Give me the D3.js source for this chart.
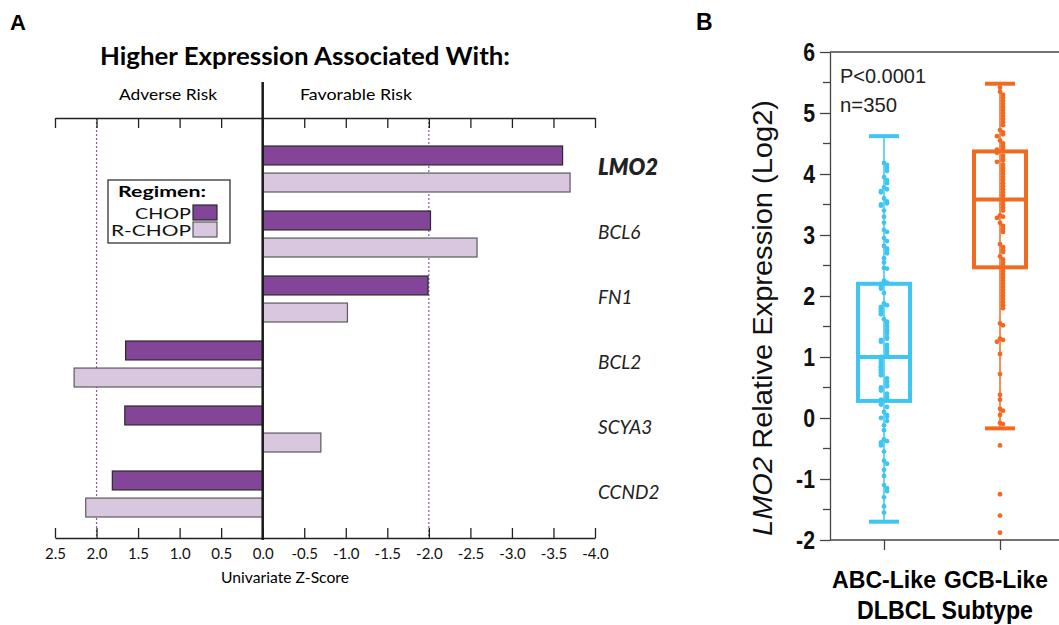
<html>
<head>
<meta charset="utf-8">
<style>
  body { margin: 0; background: #fff; }
  svg { display: block; }
  .a-txt { font-family: Lato, "Open Sans", sans-serif; }
  .b-txt { font-family: "Liberation Sans", Arial, sans-serif; }
</style>
<script src="https://cdn.jsdelivr.net/npm/d3@7"></script>
</head>
<body>
<svg id="fig" width="1059" height="625"></svg>
<script>
// ---- panel A data ----
let genes = ["LMO2", "BCL6", "FN1", "BCL2", "SCYA3", "CCND2"];
let regimens = ["CHOP", "R-CHOP"];
let zChop  = [-3.61, -2.02, -1.99, 1.65, 1.66, 1.81];
let zRchop = [-3.70, -2.58, -1.02, 2.27, -0.70, 2.13];
let zTicks = [2.5, 2.0, 1.5, 1.0, 0.5, 0.0, -0.5, -1.0, -1.5, -2.0, -2.5, -3.0, -3.5, -4.0];

// ---- panel B data ----
let subtypes = ["ABC-Like", "GCB-Like"];
let abcPoints = [4.18, 4.15, 4.1, 4.05, 3.95, 3.9, 3.85, 3.78, 3.75, 3.72, 3.7, 3.6, 3.55, 3.52, 3.5, 3.48,
  3.4, 3.3, 3.2, 3.08, 3.05, 2.95, 2.9, 2.82, 2.78, 2.75, 2.7, 2.62, 2.55, 2.46, 2.45, 2.25, 2.22, 2.2,
  2.18, 2.15, 2.12, 2.05, 1.88, 1.85, 1.82, 1.8, 1.78, 1.75, 1.72, 1.7, 1.62, 1.58, 1.55, 1.5, 1.45,
  1.42, 1.38, 1.32, 1.3, 1.28, 1.25, 1.2, 1.15, 1.1, 1.05, 1.02, 1.0, 0.98, 0.95, 0.92, 0.9, 0.87, 0.85,
  0.83, 0.8, 0.78, 0.75, 0.72, 0.7, 0.65, 0.6, 0.55, 0.52, 0.5, 0.48, 0.45, 0.4, 0.35, 0.32, 0.3, 0.28,
  0.25, 0.22, 0.18, 0.1, 0.05, 0.02, 0.0, -0.05, -0.12, -0.2, -0.35, -0.38, -0.4, -0.42, -0.45, -0.55,
  -0.7, -0.75, -0.85, -0.95, -1.1, -1.15, -1.2, -1.3, -1.45, -1.55];
let gcbPoints = [5.42, 5.35, 5.3, 5.25, 5.2, 5.15, 5.1, 5.05, 5.0, 4.95, 4.9, 4.85, 4.8, 4.72, 4.68, 4.65,
  4.62, 4.55, 4.5, 4.45, 4.42, 4.4, 4.38, 4.35, 4.3, 4.25, 4.22, 4.2, 4.15, 4.1, 4.05, 4.0, 3.95, 3.9,
  3.85, 3.8, 3.75, 3.7, 3.65, 3.6, 3.55, 3.5, 3.45, 3.4, 3.32, 3.3, 3.28, 3.2, 3.15, 3.1, 3.05, 2.85,
  2.8, 2.75, 2.72, 2.65, 2.6, 2.55, 2.5, 2.45, 2.4, 2.35, 2.3, 2.25, 2.2, 2.15, 2.1, 2.05, 2.0, 1.95,
  1.9, 1.85, 1.8, 1.55, 1.52, 1.3, 1.28, 1.25, 1.05, 0.72, 0.38, 0.3, 0.15, 0.12, 0.05, -0.08, -0.1,
  -0.45, -1.25, -1.6, -1.88];
// [whiskerLow, q1, median, q3, whiskerHigh]
let abcBox = [-1.7, 0.28, 1.0, 2.2, 4.62];
let gcbBox = [-0.17, 2.47, 3.58, 4.37, 5.48];
let yTicksB = [-2, -1, 0, 1, 2, 3, 4, 5, 6];
let yMinorB = [-1.5, -0.5, 0.5, 1.5, 2.5, 3.5, 4.5, 5.5];

let svg = d3.select("#fig");
let hyphen = s => s.replace(/\u2212/g, "-");

// ================= PANEL A =================
function panelA() {
  let x = d3.scaleLinear().domain([2.5, -4.0]).range([55, 595]);
  let y = d3.scaleBand().domain(genes).range([140, 530]).padding(0);
  let ySub = d3.scaleBand().domain(regimens).range([6, 52]).paddingInner(0.3);
  let colors = { "CHOP": "#834597", "R-CHOP": "#d9c7e0" };
  let strokes = { "CHOP": "#2a2a2a", "R-CHOP": "#5a5a5a" };

  svg.append("text").attr("class", "b-txt").attr("x", 10).attr("y", 30)
    .attr("font-size", 22).attr("font-weight", 700).text("A");
  svg.append("text").attr("class", "a-txt").attr("x", 305).attr("y", 65)
    .attr("text-anchor", "middle").attr("font-size", 25).attr("font-weight", 700)
    .attr("textLength", 410).attr("lengthAdjust", "spacingAndGlyphs")
    .text("Higher Expression Associated With:");
  svg.append("text").attr("class", "a-txt").attr("x", 168).attr("y", 100)
    .attr("text-anchor", "middle").attr("font-size", 16)
    .attr("textLength", 98).attr("lengthAdjust", "spacingAndGlyphs").text("Adverse Risk");
  svg.append("text").attr("class", "a-txt").attr("x", 356).attr("y", 100)
    .attr("text-anchor", "middle").attr("font-size", 16)
    .attr("textLength", 112).attr("lengthAdjust", "spacingAndGlyphs").text("Favorable Risk");

  // dotted threshold lines
  svg.selectAll(".thr").data([2.0, -2.0]).enter().append("line")
    .attr("x1", d => x(d)).attr("x2", d => x(d)).attr("y1", 118).attr("y2", 538)
    .attr("stroke", "#8e54a6").attr("stroke-width", 1.2).attr("stroke-dasharray", "2,2");

  // top axis (ticks only)
  let top = svg.append("g").attr("transform", "translate(0,118)")
    .call(d3.axisTop(x).tickValues(zTicks).tickSizeInner(-10).tickSizeOuter(0).tickFormat(""));
  // bottom axis
  let bot = svg.append("g").attr("transform", "translate(0,538)")
    .call(d3.axisBottom(x).tickValues(zTicks).tickSizeInner(-10).tickSizeOuter(0)
      .tickFormat(d => hyphen(d3.format(".1f")(d))));
  [top, bot].forEach(g => {
    g.select(".domain").attr("stroke", "#222").attr("stroke-width", 1.3);
    g.selectAll(".tick line").attr("stroke", "#222").attr("stroke-width", 1.3);
  });
  bot.selectAll(".tick text").attr("class", "a-txt").attr("font-size", 15).attr("fill", "#111")
    .attr("dy", "0.71em").attr("y", 10);
  svg.append("text").attr("class", "a-txt").attr("x", 285).attr("y", 583)
    .attr("text-anchor", "middle").attr("font-size", 16)
    .attr("textLength", 128).attr("lengthAdjust", "spacingAndGlyphs").text("Univariate Z-Score");

  // bars
  let rows = [];
  genes.forEach((g, i) => {
    rows.push({ gene: g, reg: "CHOP", v: zChop[i] });
    rows.push({ gene: g, reg: "R-CHOP", v: zRchop[i] });
  });
  svg.selectAll(".bar").data(rows).enter().append("rect")
    .attr("class", "bar")
    .attr("x", d => Math.min(x(0), x(d.v)))
    .attr("width", d => Math.abs(x(d.v) - x(0)))
    .attr("y", d => y(d.gene) + ySub(d.reg))
    .attr("height", ySub.bandwidth())
    .attr("fill", d => colors[d.reg])
    .attr("stroke", d => strokes[d.reg]).attr("stroke-width", 1.2);

  // zero line
  svg.append("line").attr("x1", x(0)).attr("x2", x(0)).attr("y1", 82).attr("y2", 540)
    .attr("stroke", "#1a1a1a").attr("stroke-width", 2.5);

  // gene labels
  svg.selectAll(".gene").data(genes).enter().append("text")
    .attr("class", "a-txt")
    .attr("x", 598).attr("y", d => y(d) + 27)
    .attr("dy", "0.35em")
    .attr("font-style", "italic")
    .attr("font-weight", d => d === "LMO2" ? 800 : 400)
    .attr("font-size", d => d === "LMO2" ? 22 : 19)
    .attr("fill", "#222")
    .text(d => d);

  // legend
  let lg = svg.append("g");
  lg.append("rect").attr("x", 108).attr("y", 180).attr("width", 122).attr("height", 63)
    .attr("fill", "#fff").attr("stroke", "#222").attr("stroke-width", 1.2);
  lg.append("text").attr("class", "a-txt").attr("x", 118).attr("y", 197)
    .attr("font-size", 16).attr("font-weight", 700)
    .attr("textLength", 88).attr("lengthAdjust", "spacingAndGlyphs").text("Regimen:");
  regimens.forEach((r, i) => {
    lg.append("text").attr("class", "a-txt").attr("x", 191).attr("y", 219 + i * 17)
      .attr("text-anchor", "end").attr("font-size", 16).attr("fill", "#111")
      .attr("textLength", i ? 80 : 56).attr("lengthAdjust", "spacingAndGlyphs").text(r);
    lg.append("rect").attr("x", 193).attr("y", 205 + i * 17).attr("width", 24).attr("height", 15)
      .attr("fill", colors[r]).attr("stroke", strokes[r]).attr("stroke-width", 1.2);
  });
}

// ================= PANEL B =================
function panelB() {
  let y = d3.scaleLinear().domain([-2, 6]).range([540, 52]);
  let x = d3.scalePoint().domain(subtypes).range([884, 1000]);
  let colors = ["#3ec6f0", "#f26a22"];
  let points = [abcPoints, gcbPoints];
  let boxes = [abcBox, gcbBox];

  svg.append("text").attr("class", "b-txt").attr("x", 696).attr("y", 30)
    .attr("font-size", 23).attr("font-weight", 700).text("B");

  // frame top line
  svg.append("line").attr("x1", 830).attr("x2", 1059).attr("y1", y(6)).attr("y2", y(6))
    .attr("stroke", "#444").attr("stroke-width", 1.3);

  let ax = svg.append("g").attr("transform", "translate(830,0)")
    .call(d3.axisLeft(y).tickValues(yTicksB).tickSizeInner(10).tickSizeOuter(0).tickPadding(5)
      .tickFormat(d => hyphen(String(d))));
  ax.select(".domain").attr("stroke", "#444").attr("stroke-width", 1.3);
  ax.selectAll(".tick line").attr("stroke", "#444").attr("stroke-width", 1.3);
  ax.selectAll(".tick text").attr("class", "b-txt").attr("font-size", 25)
    .attr("font-weight", 700).attr("fill", "#111")
    .attr("transform", "scale(0.85,1)").attr("x", -15 / 0.85);
  svg.append("g").selectAll("line").data(yMinorB).enter().append("line")
    .attr("x1", 823).attr("x2", 830).attr("y1", d => y(d)).attr("y2", d => y(d))
    .attr("stroke", "#444").attr("stroke-width", 1.3);

  let xa = svg.append("g").attr("transform", "translate(0,540)")
    .call(d3.axisBottom(x).tickSizeInner(10).tickSizeOuter(0).tickFormat(""));
  xa.select(".domain").attr("d", "M830,0H1059").attr("stroke", "#444").attr("stroke-width", 1.3);
  xa.selectAll(".tick line").attr("stroke", "#444").attr("stroke-width", 1.3);

  subtypes.forEach((s, i) => {
    svg.append("text").attr("class", "b-txt").attr("x", x(s) - i * 4).attr("y", 588)
      .attr("text-anchor", "middle").attr("font-size", 24).attr("font-weight", 700)
      .attr("textLength", 104).attr("lengthAdjust", "spacingAndGlyphs").text(s);
  });
  svg.append("text").attr("class", "b-txt").attr("x", 945).attr("y", 619)
    .attr("text-anchor", "middle").attr("font-size", 26).attr("font-weight", 700)
    .attr("textLength", 176).attr("lengthAdjust", "spacingAndGlyphs").text("DLBCL Subtype");

  let yt = svg.append("text").attr("class", "b-txt")
    .attr("transform", "translate(772,318) rotate(-90)")
    .attr("text-anchor", "middle").attr("font-size", 27).attr("fill", "#111")
    .attr("textLength", 436).attr("lengthAdjust", "spacingAndGlyphs");
  yt.append("tspan").attr("font-style", "italic").text("LMO2");
  yt.append("tspan").text(" Relative Expression (Log2)");

  svg.append("text").attr("class", "b-txt").attr("x", 840).attr("y", 83)
    .attr("font-size", 21).attr("fill", "#222")
    .attr("textLength", 86).attr("lengthAdjust", "spacingAndGlyphs").text("P<0.0001");
  svg.append("text").attr("class", "b-txt").attr("x", 840).attr("y", 112)
    .attr("font-size", 21).attr("fill", "#222")
    .attr("textLength", 57).attr("lengthAdjust", "spacingAndGlyphs").text("n=350");

  subtypes.forEach((s, i) => {
    let cx = x(s), b = boxes[i], c = colors[i];
    let g = svg.append("g");
    // whisker line
    g.append("line").attr("x1", cx).attr("x2", cx).attr("y1", y(b[0])).attr("y2", y(b[4]))
      .attr("stroke", c).attr("stroke-width", 1.5);
    // points, small beeswarm offset for near-equal values
    let placed = [];
    let pts = points[i].slice().sort((a, b2) => b2 - a).map(v => {
      let py = y(v);
      let near = placed.filter(p => Math.abs(p.py - py) < 4).length;
      let off = near === 0 ? 0 : (near % 2 ? 1 : -1) * Math.ceil(near / 2) * 3;
      let p = { v, py, px: cx + Math.max(-8, Math.min(8, off)) };
      placed.push(p);
      return p;
    });
    g.selectAll("circle").data(pts).enter().append("circle")
      .attr("cx", d => d.px).attr("cy", d => d.py).attr("r", 2.4).attr("fill", c);
    // box
    g.append("rect").attr("x", cx - 26).attr("width", 52)
      .attr("y", y(b[3])).attr("height", y(b[1]) - y(b[3]))
      .attr("fill", "none").attr("stroke", c).attr("stroke-width", 4);
    g.append("line").attr("x1", cx - 26).attr("x2", cx + 26).attr("y1", y(b[2])).attr("y2", y(b[2]))
      .attr("stroke", c).attr("stroke-width", 4);
    [b[0], b[4]].forEach(v => {
      g.append("line").attr("x1", cx - 15).attr("x2", cx + 15).attr("y1", y(v)).attr("y2", y(v))
        .attr("stroke", c).attr("stroke-width", 4);
    });
  });
}

panelA();
panelB();
</script>
</body>
</html>
